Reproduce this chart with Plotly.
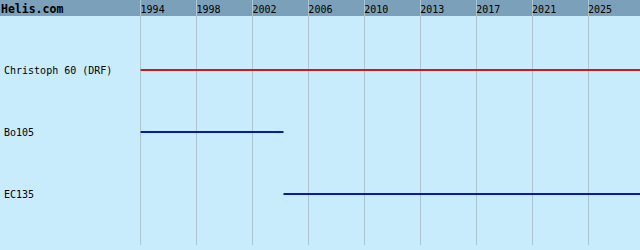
import numpy as np
import plotly.graph_objects as go

# ---- data ----
aircraft = ["Christoph 60 (DRF)", "Bo105", "EC135"]
start_years = [1994.0, 1994.0, 2003.9]
end_years = [2028.6, 2003.9, 2028.6]
line_colors = ["#d01818", "#0a1aa8", "#0a1aa8"]
tick_labels = ["1994", "1998", "2002", "2006", "2010", "2013", "2017", "2021", "2025"]

x_min, x_max = 1993.96, 2028.6
tick_vals = np.linspace(1994, 2025, len(tick_labels))

HEADER = "#7ba0b9"
BG = "#c8ecfc"
GRID = "#adc5d0"

fig = go.Figure()
for i, name in enumerate(aircraft):
    fig.add_trace(go.Scatter(
        x=[start_years[i], end_years[i]], y=[i, i], mode="lines",
        line=dict(color=line_colors[i], width=2), showlegend=False,
        hoverinfo="skip"))
    fig.add_annotation(x=-0.276, xref="paper", y=i, yref="y", text=name,
                       showarrow=False, xanchor="left", yanchor="middle",
                       font=dict(family="DejaVu Sans Mono", size=10, color="#000000"))

# header bar (below gridlines)
fig.add_shape(type="rect", xref="paper", yref="paper", x0=-0.3, x1=1.01,
              y0=1 - 16 / 245, y1=1.01, fillcolor=HEADER, line_width=0, layer="below")
# first gridline (plotly drops gridlines at the very edge of the plot)
fig.add_shape(type="line", xref="x", yref="paper", x0=tick_vals[0], x1=tick_vals[0],
              y0=0, y1=1, line=dict(color=GRID, width=1), layer="below")
fig.add_annotation(x=-0.282, xref="paper", y=1 - 9 / 245, yref="paper", text="<b>Helis.com</b>",
                   showarrow=False, xanchor="left", yanchor="middle",
                   font=dict(family="DejaVu Sans Mono", size=11.5, color="#000000"))

fig.update_xaxes(range=[x_min, x_max], side="top", tickvals=tick_vals, ticktext=tick_labels,
                 ticklabelposition="inside right", showgrid=True, gridcolor=GRID, gridwidth=1,
                 zeroline=False, showline=False, ticks="",
                 tickfont=dict(family="DejaVu Sans Mono", size=10, color="#000000"))
fig.update_yaxes(range=[2 + 51 / 62, -70 / 62], showgrid=False, zeroline=False,
                 showticklabels=False, showline=False)
fig.update_layout(width=640, height=250, margin=dict(l=140, r=0, t=0, b=5),
                  paper_bgcolor=BG, plot_bgcolor=BG)

fig.write_html("out.html", config={"displayModeBar": False})
